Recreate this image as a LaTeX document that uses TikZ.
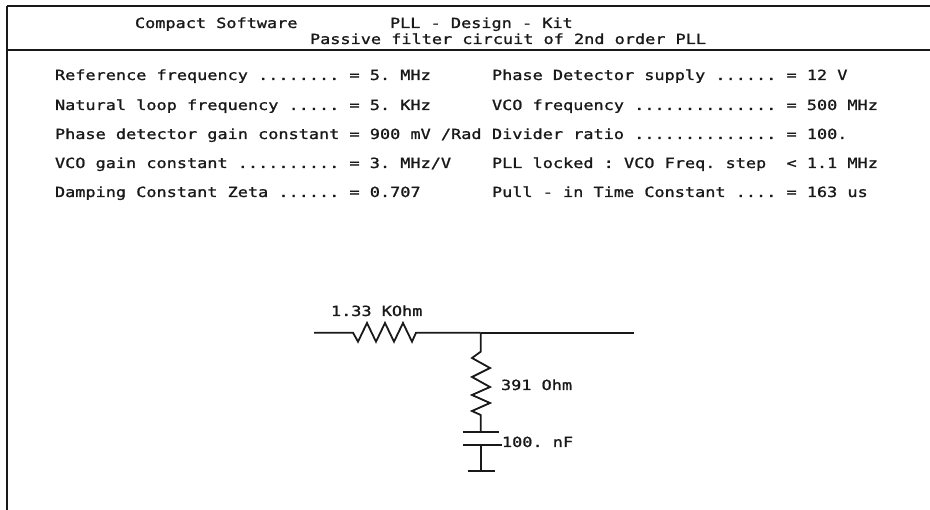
\documentclass[tikz,border=0pt]{standalone}
\usepackage{fontspec}
\newfontfamily\plotfont[FakeStretch=1.205,FakeBold=1.2]{DejaVu Sans Mono}
\frenchspacing
\tikzset{
  txt/.style={anchor=base west,inner sep=0pt,outer sep=0pt,font=\plotfont\fontsize{14pt}{14pt}\selectfont\frenchspacing,text=black!90},
  frameline/.style={line width=2pt,black!90},
  wire/.style={line width=1.8pt,black!90,line join=miter}
}
\begin{document}
\begin{tikzpicture}[x=1pt,y=-1pt]
\useasboundingbox (0,0) rectangle (930,510);
\fill[white] (0,0) rectangle (930,510);
% frame
\coordinate (tl) at (7,6); \coordinate (tr) at (930,6);
\coordinate (ml) at (7,50); \coordinate (mr) at (930,50);
\coordinate (bl) at (7,510);
\draw[frameline] (tl) -- (tr);
\draw[frameline] (ml) -- (mr);
\draw[frameline] (tl) -- (bl);
% header
\node[txt] (h1) at (135,28) {Compact Software};
\node[txt] (h2) at (390,28) {PLL - Design - Kit};
\node[txt] (h3) at (310,44) {Passive filter circuit of 2nd order PLL};
% left column
\node[txt] (l1) at (55,80) {Reference frequency ........ = 5. MHz};
\node[txt] (l2) at (55,110) {Natural loop frequency ..... = 5. KHz};
\node[txt] (l3) at (55,139) {Phase detector gain constant = 900 mV /Rad};
\node[txt] (l4) at (55,168) {VCO gain constant .......... = 3. MHz/V};
\node[txt] (l5) at (55,197) {Damping Constant Zeta ...... = 0.707};
% right column
\node[txt] (r1) at (492,80) {Phase Detector supply ...... = 12 V};
\node[txt] (r2) at (492,110) {VCO frequency .............. = 500 MHz};
\node[txt] (r3) at (492,139) {Divider ratio .............. = 100.};
\node[txt] (r4) at (492,168) {PLL locked : VCO Freq. step\ \ < 1.1 MHz};
\node[txt] (r5) at (492,197) {Pull - in Time Constant .... = 163 us};
% circuit
\coordinate (in) at (314,332.7);
\coordinate (out) at (634,332.7);
\coordinate (j) at (480.7,332.7);
\coordinate (capTop) at (480.7,431.7);
\coordinate (capBot) at (480.7,445);
\coordinate (gnd) at (480.7,471);
\draw[wire] (in) -- (353,332.7) -- (358,341.7) -- (367,323) -- (376,341.7) -- (385,323) -- (394,341.7) -- (403,323) -- (412,341.7) -- (416,332.7) -- (j);
\draw[wire] (j) -- (out);
\draw[wire] (j) -- (480.7,351.7) -- (472,358) -- (490,368) -- (472,377) -- (490,387) -- (472,395) -- (490,403) -- (472,411) -- (480.7,415) -- (capTop);
\draw[wire] (462.7,431.7) -- (499,431.7);
\draw[wire] (463.3,445) -- (502,445);
\draw[wire] (capBot) -- (gnd);
\draw[wire] (467.7,471) -- (495,471);
\node[txt] (rs) at (331,316) {1.33 KOhm};
\node[txt] (rp) at (501,390) {391 Ohm};
\node[txt] (c) at (502,447) {100. nF};
\end{tikzpicture}
\end{document}
